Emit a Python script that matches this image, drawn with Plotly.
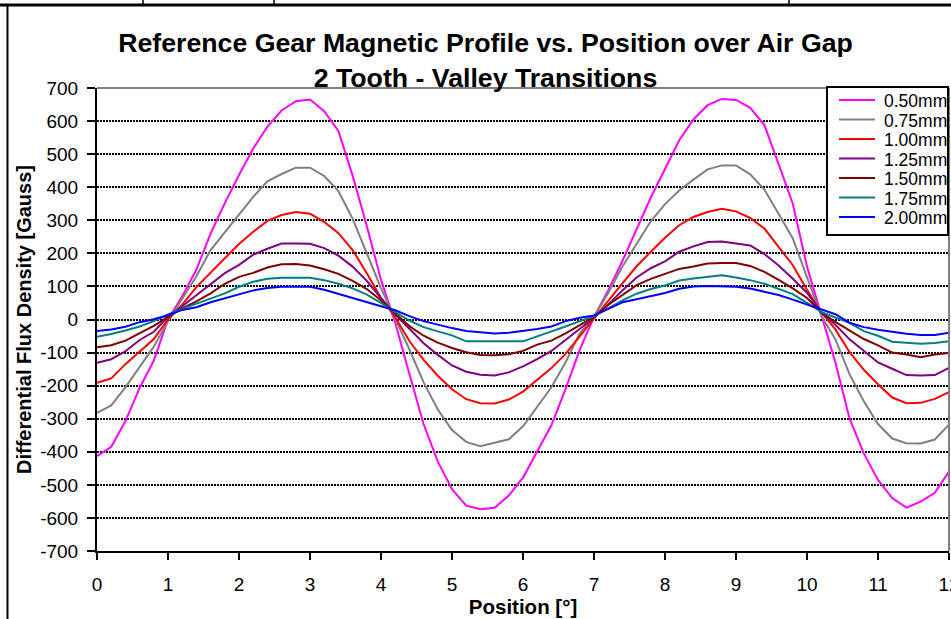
import plotly.graph_objects as go

# ---------------- data ----------------
positions = [0.0, 0.2, 0.4, 0.6, 0.8, 1.0, 1.2, 1.4, 1.6, 1.8,
             2.0, 2.2, 2.4, 2.6, 2.8, 3.0, 3.2, 3.4, 3.6, 3.8,
             4.0, 4.2, 4.4, 4.6, 4.8, 5.0, 5.2, 5.4, 5.6, 5.8,
             6.0, 6.2, 6.4, 6.6, 6.8, 7.0, 7.2, 7.4, 7.6, 7.8,
             8.0, 8.2, 8.4, 8.6, 8.8, 9.0, 9.2, 9.4, 9.6, 9.8,
             10.0, 10.2, 10.4, 10.6, 10.8, 11.0, 11.2, 11.4, 11.6, 11.8,
             12.0]

gap_050 = [-413, -385, -308, -207, -124, 0, 70, 151, 260, 352,
           437, 517, 583, 632, 660, 665, 630, 570, 435, 283,
           120, -10, -165, -316, -430, -513, -563, -574, -569, -532,
           -478, -400, -320, -210, -91, 8, 88, 177, 275, 369,
           455, 542, 605, 648, 667, 664, 640, 588, 470, 350,
           160, 12, -130, -300, -405, -485, -540, -569, -551, -524,
           -460]

gap_075 = [-282, -260, -205, -143, -82, -5, 62, 131, 210, 264,
           320, 371, 418, 440, 459, 459, 434, 388, 305, 197,
           95, 2, -90, -190, -272, -334, -370, -383, -373, -362,
           -323, -264, -205, -129, -42, 8, 80, 160, 230, 297,
           349, 390, 423, 454, 466, 466, 439, 393, 320, 245,
           128, 12, -60, -166, -247, -316, -360, -374, -375, -363,
           -318]

gap_100 = [-191, -178, -135, -98, -59, 0, 45, 98, 143, 185,
           228, 265, 298, 316, 325, 320, 295, 261, 210, 140,
           65, 7, -65, -122, -170, -211, -241, -253, -254, -242,
           -218, -183, -147, -104, -50, 5, 56, 109, 161, 205,
           247, 285, 310, 325, 335, 327, 307, 275, 218, 164,
           90, 22, -30, -99, -152, -196, -236, -253, -252, -240,
           -220]

gap_125 = [-131, -120, -96, -62, -37, 8, 40, 74, 108, 140,
           165, 196, 214, 230, 230, 229, 216, 193, 160, 117,
           65, 15, -28, -72, -107, -139, -158, -167, -169, -160,
           -142, -120, -95, -62, -28, 5, 45, 88, 127, 155,
           176, 205, 221, 234, 236, 231, 224, 198, 163, 123,
           81, 22, -16, -60, -96, -130, -149, -168, -169, -168,
           -146]

gap_150 = [-84, -78, -64, -41, -19, 8, 34, 55, 79, 108,
           129, 141, 157, 167, 168, 163, 152, 138, 117, 92,
           58, 18, -20, -49, -70, -86, -99, -107, -108, -105,
           -95, -76, -64, -42, -18, 8, 44, 75, 104, 123,
           138, 153, 160, 169, 171, 171, 162, 144, 120, 94,
           65, 22, -7, -33, -59, -78, -100, -106, -114, -106,
           -101]

gap_175 = [-52, -44, -33, -21, -5, 15, 32, 48, 63, 79,
           99, 114, 123, 126, 126, 126, 119, 108, 94, 75,
           50, 22, -3, -23, -36, -48, -66, -66, -66, -66,
           -66, -51, -37, -21, -5, 10, 34, 58, 78, 92,
           103, 118, 124, 130, 134, 127, 119, 108, 92, 77,
           50, 23, 6, -10, -35, -49, -67, -71, -73, -71,
           -66]

gap_200 = [-35, -30, -22, -8, 1, 13, 29, 37, 52, 64,
           77, 88, 95, 99, 99, 99, 90, 77, 64, 53,
           40, 28, 10, -5, -16, -26, -35, -39, -42, -40,
           -35, -29, -21, -5, 5, 12, 32, 52, 61, 70,
           80, 93, 100, 101, 100, 99, 94, 85, 74, 60,
           45, 32, 16, -10, -23, -31, -38, -43, -47, -47,
           -40]

series_names = ["0.50mm", "0.75mm", "1.00mm", "1.25mm", "1.50mm", "1.75mm", "2.00mm"]
series_values = [gap_050, gap_075, gap_100, gap_125, gap_150, gap_175, gap_200]
series_colors = ["#FF00FF", "#808080", "#FF0000", "#800080", "#800000", "#008080", "#0000FF"]

x_ticks = [0, 1, 2, 3, 4, 5, 6, 7, 8, 9, 10, 11, 12]
y_ticks = [-700, -600, -500, -400, -300, -200, -100, 0, 100, 200, 300, 400, 500, 600, 700]

# ---------------- layout helpers (pixel -> paper) ----------------
W, H = 951, 619
ML, MR, MT, MB = 97, 2, 88, 68
PW, PH = W - ML - MR, H - MT - MB


def px(xp):
    return (xp - ML) / PW


def py(yp):
    return (H - MB - yp) / PH


FONT = "Liberation Sans, Arial, sans-serif"

fig = go.Figure()
for name, vals, col in zip(series_names, series_values, series_colors):
    fig.add_trace(go.Scatter(x=positions, y=vals, mode="lines", name=name,
                             line=dict(color=col, width=2), showlegend=False))

shapes = []
annotations = []

# plot-area top/right border (grey)
shapes.append(dict(type="line", xref="paper", yref="paper", x0=0, x1=1, y0=1, y1=1,
                   line=dict(color="#808080", width=2), layer="above"))
shapes.append(dict(type="line", xref="paper", yref="paper", x0=1, x1=1, y0=0, y1=1,
                   line=dict(color="#808080", width=2), layer="above"))

# outer chart frame / sheet cell borders
shapes.append(dict(type="line", xref="paper", yref="paper", x0=px(0), x1=px(951), y0=py(5), y1=py(5),
                   line=dict(color="black", width=3), layer="above"))
shapes.append(dict(type="line", xref="paper", yref="paper", x0=px(7.5), x1=px(7.5), y0=py(5), y1=py(619),
                   line=dict(color="black", width=2), layer="above"))
for cx in [143, 274, 789]:
    shapes.append(dict(type="line", xref="paper", yref="paper", x0=px(cx), x1=px(cx), y0=py(0), y1=py(5),
                       line=dict(color="black", width=1.5), layer="above"))

# legend box
lx0, lx1, ly0, ly1 = 827, 948, 87, 235
shapes.append(dict(type="rect", xref="paper", yref="paper", x0=px(lx0), x1=px(lx1), y0=py(ly1), y1=py(ly0),
                   line=dict(color="black", width=2), fillcolor="white", layer="above"))
for i, (name, col) in enumerate(zip(series_names, series_colors)):
    yy = 100 + 19.5 * i
    shapes.append(dict(type="line", xref="paper", yref="paper", x0=px(839), x1=px(875), y0=py(yy), y1=py(yy),
                       line=dict(color=col, width=2), layer="above"))
    annotations.append(dict(xref="paper", yref="paper", x=px(882), y=py(yy + 1), text=name,
                            showarrow=False, xanchor="left", yanchor="middle",
                            font=dict(family=FONT, size=17.5, color="black")))

fig.update_layout(
    width=W, height=H,
    margin=dict(l=ML, r=MR, t=MT, b=MB, pad=0),
    paper_bgcolor="white", plot_bgcolor="white",
    font=dict(family=FONT, color="black"),
    title=dict(text="<b>Reference Gear Magnetic Profile vs. Position over Air Gap<br>2 Tooth - Valley Transitions</b>",
               font=dict(family=FONT, size=26.7, color="black"),
               x=485.5 / W, xanchor="center", xref="container",
               y=1 - 52 / H, yanchor="top", yref="container"),
    showlegend=False,
    shapes=shapes,
    annotations=annotations,
    xaxis=dict(range=[0, 12], tickvals=x_ticks, ticktext=[str(t) for t in x_ticks],
               ticks="outside", ticklen=7, tickwidth=2, tickcolor="black",
               showline=True, linecolor="black", linewidth=2,
               showgrid=False, zeroline=False, automargin=False,
               tickfont=dict(family=FONT, size=19, color="black"),
               ticklabelstandoff=8, ticklabeloverflow="allow",
               title=dict(text="<b>Position [°]</b>", font=dict(family=FONT, size=20.5, color="black"), standoff=0)),
    xaxis2=dict(range=[0, 12], tickvals=x_ticks, overlaying="x", anchor="y", side="bottom",
                ticks="inside", ticklen=7, tickwidth=2, tickcolor="black",
                showticklabels=False, showline=False, showgrid=False, zeroline=False),
    yaxis=dict(range=[-700, 700], tickvals=y_ticks, ticktext=[str(t) for t in y_ticks],
               ticks="outside", ticklen=8, tickwidth=2, tickcolor="black",
               showline=True, linecolor="black", linewidth=2,
               showgrid=True, gridcolor="black", gridwidth=2, griddash="2px,1px",
               zeroline=False, automargin=False,
               tickfont=dict(family=FONT, size=19, color="black"),
               ticklabelstandoff=5,
               title=dict(text="<b>Differential Flux Density [Gauss]</b>",
                          font=dict(family=FONT, size=20, color="black"), standoff=3)),
)

fig.write_html("out.html", config={"displayModeBar": False},
               post_script="document.body.style.margin='0';document.body.style.overflow='hidden';")
